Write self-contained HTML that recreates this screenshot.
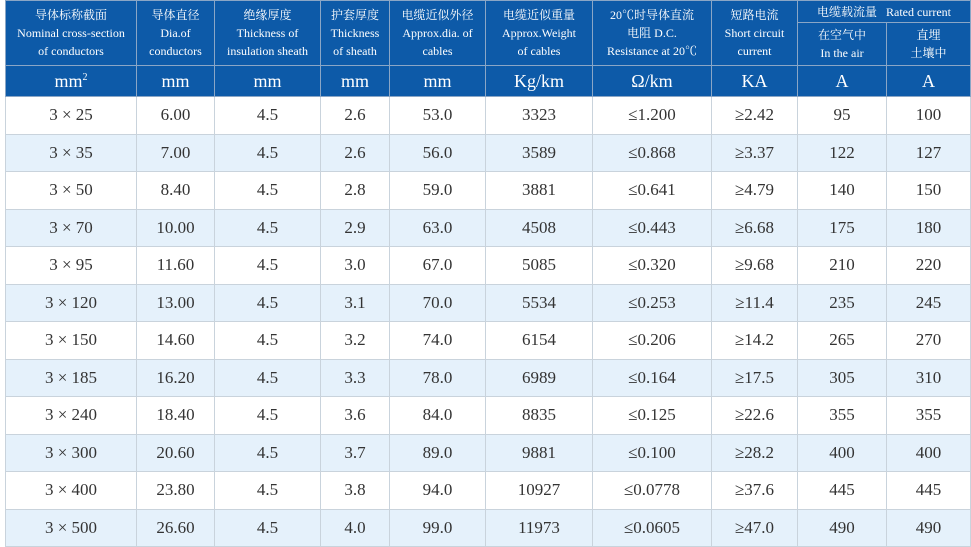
<!DOCTYPE html>
<html><head><meta charset="utf-8"><style>
html,body{margin:0;padding:0;background:#fff;width:971px;height:547px;overflow:hidden}
table{position:absolute;left:5px;top:0;border-collapse:collapse;table-layout:fixed;width:965px;font-family:"Liberation Serif","Noto Serif CJK SC",serif;color:#333}
td{border:1px solid #c9d3dc;text-align:center;padding:0;overflow:hidden;white-space:nowrap}
.h td{background:#0d5aa8;color:#fff;border-color:#8aa6c6;font-size:12px;line-height:18px}
.u td{background:#0d5aa8;color:#fff;border-color:#8aa6c6;font-size:18px;height:30px}
.d td{font-size:17px;height:36.5px}
.d.b td{background:#e5f1fb}
</style></head><body>
<table>
<colgroup><col style="width:131px"><col style="width:78px"><col style="width:106px"><col style="width:69px"><col style="width:96px"><col style="width:107px"><col style="width:119px"><col style="width:86px"><col style="width:89px"><col style="width:84px"></colgroup>
<tr class="h"><td rowspan="2" style="height:64px">导体标称截面<br>Nominal cross-section<br>of conductors</td><td rowspan="2">导体直径<br>Dia.of<br>conductors</td><td rowspan="2">绝缘厚度<br>Thickness of<br>insulation sheath</td><td rowspan="2">护套厚度<br>Thickness<br>of sheath</td><td rowspan="2">电缆近似外径<br>Approx.dia. of<br>cables</td><td rowspan="2">电缆近似重量<br>Approx.Weight<br>of cables</td><td rowspan="2">20℃时导体直流<br>电阻 D.C.<br>Resistance at 20℃</td><td rowspan="2">短路电流<br>Short circuit<br>current</td><td colspan="2" style="height:21px">电缆载流量&nbsp;&nbsp;&nbsp;Rated current</td></tr>
<tr class="h"><td style="height:42px">在空气中<br>In the air</td><td>直埋<br>土壤中</td></tr>
<tr class="u"><td>mm<sup style="font-size:10px">2</sup></td><td>mm</td><td>mm</td><td>mm</td><td>mm</td><td>Kg/km</td><td>Ω/km</td><td>KA</td><td>A</td><td>A</td></tr>
<tr class="d"><td>3 × 25</td><td>6.00</td><td>4.5</td><td>2.6</td><td>53.0</td><td>3323</td><td>≤1.200</td><td>≥2.42</td><td>95</td><td>100</td></tr>
<tr class="d b"><td>3 × 35</td><td>7.00</td><td>4.5</td><td>2.6</td><td>56.0</td><td>3589</td><td>≤0.868</td><td>≥3.37</td><td>122</td><td>127</td></tr>
<tr class="d"><td>3 × 50</td><td>8.40</td><td>4.5</td><td>2.8</td><td>59.0</td><td>3881</td><td>≤0.641</td><td>≥4.79</td><td>140</td><td>150</td></tr>
<tr class="d b"><td>3 × 70</td><td>10.00</td><td>4.5</td><td>2.9</td><td>63.0</td><td>4508</td><td>≤0.443</td><td>≥6.68</td><td>175</td><td>180</td></tr>
<tr class="d"><td>3 × 95</td><td>11.60</td><td>4.5</td><td>3.0</td><td>67.0</td><td>5085</td><td>≤0.320</td><td>≥9.68</td><td>210</td><td>220</td></tr>
<tr class="d b"><td>3 × 120</td><td>13.00</td><td>4.5</td><td>3.1</td><td>70.0</td><td>5534</td><td>≤0.253</td><td>≥11.4</td><td>235</td><td>245</td></tr>
<tr class="d"><td>3 × 150</td><td>14.60</td><td>4.5</td><td>3.2</td><td>74.0</td><td>6154</td><td>≤0.206</td><td>≥14.2</td><td>265</td><td>270</td></tr>
<tr class="d b"><td>3 × 185</td><td>16.20</td><td>4.5</td><td>3.3</td><td>78.0</td><td>6989</td><td>≤0.164</td><td>≥17.5</td><td>305</td><td>310</td></tr>
<tr class="d"><td>3 × 240</td><td>18.40</td><td>4.5</td><td>3.6</td><td>84.0</td><td>8835</td><td>≤0.125</td><td>≥22.6</td><td>355</td><td>355</td></tr>
<tr class="d b"><td>3 × 300</td><td>20.60</td><td>4.5</td><td>3.7</td><td>89.0</td><td>9881</td><td>≤0.100</td><td>≥28.2</td><td>400</td><td>400</td></tr>
<tr class="d"><td>3 × 400</td><td>23.80</td><td>4.5</td><td>3.8</td><td>94.0</td><td>10927</td><td>≤0.0778</td><td>≥37.6</td><td>445</td><td>445</td></tr>
<tr class="d b"><td>3 × 500</td><td>26.60</td><td>4.5</td><td>4.0</td><td>99.0</td><td>11973</td><td>≤0.0605</td><td>≥47.0</td><td>490</td><td>490</td></tr>
</table>
</body></html>
